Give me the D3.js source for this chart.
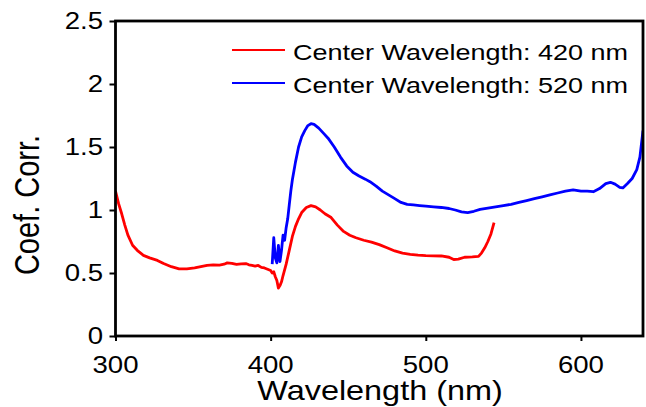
<!DOCTYPE html>
<html><head><meta charset="utf-8">
<script src="https://cdn.jsdelivr.net/npm/d3@7"></script>
<style>body{margin:0;background:#fff}svg{display:block}text{font-family:"Liberation Sans",Arial,sans-serif;fill:#000}</style>
</head><body><svg id="c" width="646" height="407"></svg>
<script>
const redX=[300,302,304,306,308,311,314,318,322,327,331,336,341,346,351,355,359,363,367,370,372,375,378,381,384,386,388,390,392,394,396,398,400,401,402,403,404,405,406,407,408,410,412,414,416,418,420,423,426,429,432,435,439,443,447,451,455,460,465,470,475,480,485,490,495,500,505,510,515,518,521,525,530,534,536,538,540,542,544];
const redY=[1.15,1.05,0.97,0.88,0.80,0.72,0.68,0.64,0.62,0.60,0.575,0.55,0.533,0.533,0.54,0.55,0.56,0.565,0.563,0.57,0.58,0.576,0.568,0.572,0.575,0.565,0.56,0.555,0.56,0.545,0.54,0.53,0.52,0.50,0.51,0.47,0.44,0.38,0.40,0.43,0.48,0.57,0.68,0.79,0.87,0.93,0.98,1.02,1.035,1.025,1.0,0.97,0.94,0.88,0.83,0.80,0.78,0.76,0.745,0.725,0.70,0.675,0.657,0.648,0.642,0.638,0.636,0.635,0.625,0.607,0.61,0.625,0.628,0.632,0.66,0.70,0.75,0.81,0.90];
const blueX=[401,402,403,404,405,406,407,408,409,410,411,412,413,414,415,416,418,420,422,424,426,428,431,434,437,441,445,449,453,457,461,464,468,472,476,480,484,488,492,496,500,505,510,515,519,523,527,531,535,540,545,550,555,560,565,570,575,580,585,590,595,600,604,608,612,616,619,622,625,627,630,633,636,638,640];
const blueY=[0.57,0.78,0.62,0.58,0.72,0.59,0.68,0.80,0.76,0.86,0.93,1.04,1.15,1.24,1.31,1.38,1.50,1.58,1.63,1.67,1.685,1.68,1.65,1.61,1.57,1.50,1.42,1.35,1.30,1.27,1.245,1.225,1.19,1.15,1.12,1.09,1.06,1.045,1.04,1.035,1.03,1.025,1.02,1.012,1.0,0.985,0.98,0.99,1.005,1.015,1.025,1.035,1.045,1.06,1.075,1.09,1.105,1.12,1.135,1.15,1.16,1.15,1.15,1.145,1.17,1.21,1.22,1.205,1.18,1.175,1.21,1.25,1.32,1.42,1.63];
const xTicks=[300,400,500,600];
const yTicks=[0,0.5,1,1.5,2,2.5];
const yTickLabels=["0","0.5","1","1.5","2","2.5"];
const seriesNames=["Center Wavelength: 420 nm","Center Wavelength: 520 nm"];
const seriesColors=["#ff0000","#0000ff"];

const L=115.5,R=643,T=21,B=336;
const svg=d3.select("#c");
const x=d3.scaleLinear().domain([300,640]).range([L,R]);
const y=d3.scaleLinear().domain([0,2.5]).range([B,T]);
const SX=1.2;

svg.append("defs").append("clipPath").attr("id","clip").append("rect").attr("x",L).attr("y",T).attr("width",R-L).attr("height",B-T);

const line=d3.line().x(d=>x(d[0])).y(d=>y(d[1]));
const series=[d3.zip(redX,redY),d3.zip(blueX,blueY)];
series.forEach((s,i)=>{
  svg.append("path").datum(s).attr("d",line).attr("fill","none")
    .attr("stroke",seriesColors[i]).attr("stroke-width",2.8).attr("stroke-linejoin","round")
    .attr("clip-path","url(#clip)");
});

const xa=svg.append("g").attr("transform",`translate(0,${B})`)
  .call(d3.axisBottom(x).tickValues(xTicks).tickSize(5).tickFormat(""));
const ya=svg.append("g").attr("transform",`translate(${L},0)`)
  .call(d3.axisLeft(y).tickValues(yTicks).tickSize(6).tickFormat(""));
[xa,ya].forEach(a=>{a.select(".domain").remove();a.selectAll("line").attr("stroke","#000").attr("stroke-width",2);});

svg.append("rect").attr("x",L).attr("y",T).attr("width",R-L).attr("height",B-T)
  .attr("fill","none").attr("stroke","#000").attr("stroke-width",2.8);

xTicks.forEach(v=>{
  svg.append("text").attr("transform",`translate(${x(v)},${373}) scale(${SX},1)`)
    .attr("text-anchor","middle").attr("font-size",23).text(v);
});
yTicks.forEach((v,i)=>{
  svg.append("text").attr("transform",`translate(${103},${y(v)+8}) scale(${SX},1)`)
    .attr("text-anchor","end").attr("font-size",23).text(yTickLabels[i]);
});

svg.append("text").attr("transform",`translate(${380},${400}) scale(${SX},1)`)
  .attr("text-anchor","middle").attr("font-size",27).text("Wavelength (nm)");
svg.append("text").attr("transform",`translate(${39},${205}) scale(${SX},1) rotate(-90)`)
  .attr("text-anchor","middle").attr("font-size",29).text("Coef. Corr.");

const ly=[50,83];
seriesNames.forEach((n,i)=>{
  svg.append("line").attr("x1",232).attr("x2",285).attr("y1",ly[i]).attr("y2",ly[i])
    .attr("stroke",seriesColors[i]).attr("stroke-width",2.2);
  svg.append("text").attr("transform",`translate(${293},${ly[i]+10}) scale(1.2,1)`)
    .attr("font-size",22.5).text(n);
});
</script></body></html>
